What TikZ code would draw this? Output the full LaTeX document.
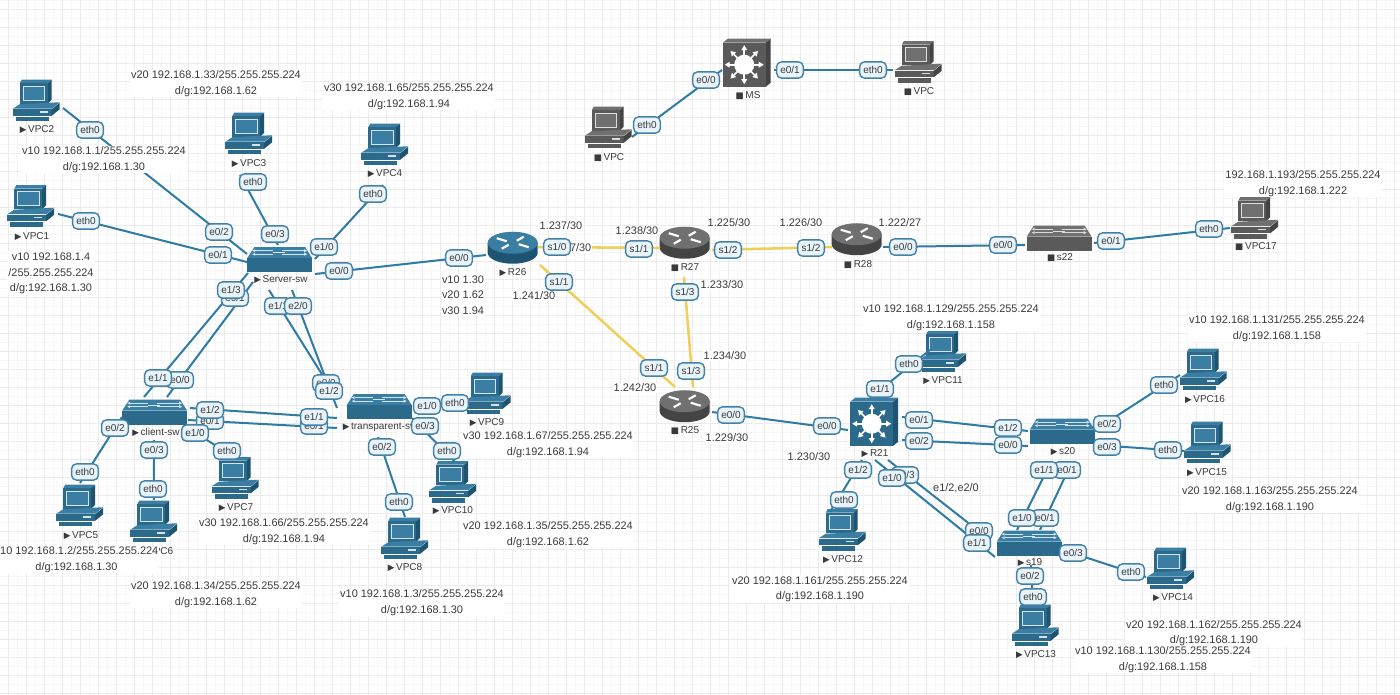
\documentclass[tikz,border=0pt]{standalone}
\usepackage{fontspec}
\setmainfont{Liberation Sans}
\newfontfamily\symf{DejaVu Sans}
\usetikzlibrary{calc}
\definecolor{blueM}{HTML}{2C6A8C}
\definecolor{blueT}{HTML}{3A7EA3}
\definecolor{blueD}{HTML}{1F5470}
\definecolor{blueS}{HTML}{D5E4EC}
\definecolor{grayM}{HTML}{5A5A5A}
\definecolor{grayT}{HTML}{707070}
\definecolor{grayD}{HTML}{444444}
\definecolor{grayS}{HTML}{DDDDDD}
\definecolor{linkblue}{HTML}{2E7BA6}
\definecolor{linkyel}{HTML}{F0CE58}
\definecolor{pillfill}{HTML}{E8F4FA}
\definecolor{pillline}{HTML}{4580A6}
\definecolor{inktext}{HTML}{3A3A3A}
\newcommand\txtf{\fontsize{8.2}{11.7}\selectfont}
\newcommand\pillf{\fontsize{7.5}{9}\selectfont}
\newcommand\devf{\fontsize{7.5}{9}\selectfont}
\newcommand\upm{{\symf\fontsize{6.5}{9}\selectfont ▶}\,}
\newcommand\stm{{\symf\fontsize{6.5}{9}\selectfont ■}\,}
\tikzset{
  link/.style={draw=linkblue,line width=1.5pt},
  serial/.style={draw=linkyel,line width=1.9pt},
  pcbox/.style={minimum width=35.25pt,minimum height=31.5pt,inner sep=0pt},
  swbox/.style={minimum width=48.75pt,minimum height=18.75pt,inner sep=0pt},
  rtbox/.style={minimum width=37.5pt,minimum height=24pt,inner sep=0pt},
  mlbox/.style={minimum width=36pt,minimum height=36pt,inner sep=0pt},
  pill/.style={draw=pillline,line width=1.05pt,fill=pillfill,rounded corners=3.6pt,minimum width=20pt,minimum height=12.2pt,inner sep=0pt,font=\pillf,text=inktext},
  txt/.style={fill=white,inner sep=.8pt,align=center,font=\txtf,text=inktext},
  devl/.style={inner sep=0pt,font=\devf,text=inktext},
  minor/.style={draw=black!3.5,line width=.4pt},
  major/.style={draw=black!8,line width=.5pt},
}
% #1 name, #2 x, #3 y, #4 colour prefix
\newcommand\pcdev[4]{%
  \node[pcbox] (#1) at (#2,#3) {};
  \begin{scope}[shift={(#1.north west)}]
    \fill[#4T] (7,3.5) -- (9,0) -- (39,0) -- (35,3.5) -- cycle;
    \fill[#4D] (35,3.5) -- (39,0) -- (39,20) -- (35,24) -- cycle;
    \fill[#4M] (7,3.5) rectangle (35,24);
    \filldraw[fill=#4T,draw=#4S,line width=.5pt] (10.5,6.5) rectangle (32,20.5);
    \fill[#4T] (0,29) -- (7,24.5) -- (47,22.5) -- (39,29) -- cycle;
    \fill[#4M] (0,29.6) rectangle (39,36);
    \fill[#4D] (39,29.6) -- (47,23) -- (47,29.5) -- (39,36) -- cycle;
    \fill[#4S] (27,31.5) rectangle (35,33);
    \fill[#4M] (3,37) rectangle (36,41.5);
  \end{scope}}
\newcommand\swdev[4]{%
  \node[swbox] (#1) at (#2,#3) {};
  \begin{scope}[shift={(#1.north west)}]
    \fill[#4T] (0,11) -- (7,0) -- (58,0) -- (65,11) -- cycle;
    \fill[#4M] (0,11) rectangle (65,25);
    \draw[#4S,line width=.5pt] (8,3.5) -- (26,3.5) (8,7) -- (26,7) (35,3.5) -- (57,3.5) (35,7) -- (57,7) (26,5.2) -- (38,5.2);
    \fill[#4S] (8,2) -- (5,3.5) -- (8,5) -- cycle (8,5.5) -- (5,7) -- (8,8.5) -- cycle (57,2) -- (60,3.5) -- (57,5) -- cycle (57,5.5) -- (60,7) -- (57,8.5) -- cycle;
  \end{scope}}
\newcommand\rtdev[4]{%
  \node[rtbox] (#1) at (#2,#3) {};
  \begin{scope}[shift={(#1.north west)}]
    \fill[#4D] (0,11) -- (0,21) arc[start angle=180,end angle=0,x radius=25,y radius=11] -- (50,11) -- cycle;
    \fill[#4T] (25,11) ellipse[x radius=25,y radius=11];
    \draw[white,line width=1.6pt] (9,6.5) -- (19,9.5) (41,15.5) -- (31,12.5) (36,5) -- (29,9) (14,17) -- (21,13);
  \end{scope}}
\newcommand\mldev[4]{%
  \node[mlbox] (#1) at (#2,#3) {};
  \begin{scope}[shift={(#1.north west)}]
    \fill[#4T] (0,4) -- (5,0) -- (48,0) -- (43,4) -- cycle;
    \fill[#4D] (43,4) -- (48,0) -- (48,44) -- (43,48) -- cycle;
    \fill[#4M] (0,4) rectangle (43,48);
    \fill[white] (21.5,26) circle[radius=10];
    \foreach \a in {0,45,...,315}{
      \begin{scope}[shift={(21.5,26)},rotate=\a]
        \draw[white,line width=1.2pt] (9,0) -- (15,0);
        \fill[white] (14.5,-3) -- (19.5,0) -- (14.5,3) -- cycle;
      \end{scope}
    }
  \end{scope}}
\newcommand\lk[7][link]{\draw[#1] ($(#2)+(#3,#4)$) -- ($(#5)+(#6,#7)$);}
\newcommand\pl[4]{\node[pill] (#1) at (#2,#3) {#4};}
\newcommand\tx[4]{\node[txt] (#1) at (#2,#3) {#4};}
\newcommand\dl[4]{\node[devl] (#1) at (#2,#3) {#4};}
\begin{document}
\begin{tikzpicture}[x=.75pt,y=-.75pt]
\useasboundingbox (0,0) rectangle (1400,695);
\fill[white] (0,0) rectangle (1400,695);
% grid
\foreach \i in {17,35,...,1400} {\draw[minor] (\i,0) -- (\i,695);}
\foreach \i in {0,18,...,695} {\draw[minor] (0,\i) -- (1400,\i);}
\foreach \i in {8,26,...,1400} {\draw[major] (\i,0) -- (\i,695);}
\foreach \i in {9,27,...,695} {\draw[major] (0,\i) -- (1400,\i);}
% device anchors (nodes) and icons
\pcdev{vpc2}{36.5}{101}{blue}
\pcdev{vpc1}{31}{206.5}{blue}
\pcdev{vpc3}{249}{134}{blue}
\pcdev{vpc4}{385}{145}{blue}
\swdev{srv}{280}{260}{blue}
\swdev{cli}{155}{412.5}{blue}
\swdev{trn}{379.5}{407}{blue}
\pcdev{vpc5}{80}{506}{blue}
\pcdev{vpc6}{154}{522}{blue}
\pcdev{vpc7}{235.5}{478.5}{blue}
\pcdev{vpc8}{405}{539}{blue}
\pcdev{vpc9}{487.5}{394}{blue}
\pcdev{vpc10}{453}{482.5}{blue}
\rtdev{r26}{513}{248}{blue}
\rtdev{r27}{685}{243}{gray}
\rtdev{r28}{857}{239.5}{gray}
\rtdev{r25}{685}{406.5}{gray}
\mldev{r21}{874.5}{422}{blue}
\swdev{s20}{1062.5}{431.5}{blue}
\swdev{s19}{1029.5}{543.5}{blue}
\swdev{s22}{1059.5}{238.5}{gray}
\pcdev{vpc11}{943}{352}{blue}
\pcdev{vpc12}{842.5}{530.5}{blue}
\pcdev{vpc13}{1035.5}{626}{blue}
\pcdev{vpc14}{1171}{569}{blue}
\pcdev{vpc15}{1207.5}{443}{blue}
\pcdev{vpc16}{1203.5}{370}{blue}
\pcdev{vpc17}{1255}{218.5}{gray}
\mldev{ms}{747}{63}{gray}
\pcdev{vpcr}{918.5}{62.5}{gray}
\pcdev{vpcl}{608.5}{128}{gray}
% connectors
\lk{vpc2}{26.5}{7}{srv}{-33}{-6}
\lk{vpc1}{27}{7.5}{srv}{-33}{2}
\lk{vpc3}{-9}{41}{srv}{-2}{-15}
\lk{vpc4}{-2}{40}{srv}{35}{-1}
\lk{srv}{35}{14}{r26}{-27}{7}
\lk{srv}{-32}{13}{cli}{-11}{-15.5}
\lk{srv}{-27}{22}{cli}{12}{-15.5}
\lk{srv}{-11}{30}{trn}{-44.5}{-12}
\lk{srv}{12}{30}{trn}{-42.5}{1}
\lk{cli}{35}{-4.5}{trn}{-42.5}{11}
\lk{cli}{33}{7.5}{trn}{-42.5}{21}
\lk{cli}{-33}{4.5}{vpc5}{0}{-23}
\lk{cli}{-1}{27.5}{vpc6}{0}{-22}
\lk{cli}{33}{15.5}{vpc7}{-3.5}{-22.5}
\lk{trn}{34.5}{0}{vpc9}{-22.5}{8}
\lk{trn}{32.5}{11}{vpc10}{2}{-20.5}
\lk{trn}{-1.5}{30}{vpc8}{0}{-22}
\lk[serial]{r26}{25}{-1}{r27}{-25}{5}
\lk[serial]{r27}{27}{7}{r28}{-25}{7.5}
\lk{r28}{26}{7.5}{s22}{-34.5}{6.5}
\lk{s22}{34.5}{4.5}{vpc17}{-25}{9.5}
\lk[serial]{r26}{27}{17}{r25}{-10}{-19.5}
\lk[serial]{r27}{-1}{34}{r25}{8}{-19.5}
\lk{r25}{27}{5.5}{r21}{-26.5}{8}
\lk{r21}{-4.5}{-24}{vpc11}{-13}{-2}
\lk{r21}{27.5}{-5}{s20}{-34.5}{-.5}
\lk{r21}{27.5}{18}{s20}{-34.5}{14.5}
\lk{r21}{-12.5}{38}{vpc12}{-12.5}{-18.5}
\lk{r21}{13.5}{38}{s19}{-39.5}{-3.5}
\lk{r21}{.5}{38}{s19}{-34.5}{13.5}
\lk{s20}{-12.5}{32.5}{s19}{-12.5}{-13.5}
\lk{s20}{9.5}{30.5}{s19}{10.5}{-13.5}
\lk{s19}{1.5}{21.5}{vpc13}{-2.5}{-21}
\lk{s19}{33.5}{6.5}{vpc14}{-25}{8}
\lk{s20}{32.5}{-1.5}{vpc16}{-23.5}{5}
\lk{s20}{32.5}{13.5}{vpc15}{-23.5}{8}
\lk{ms}{-25}{7}{vpcl}{23.5}{9}
\lk{ms}{27}{7}{vpcr}{-25.5}{7.5}
% device labels
\dl{lvpc2}{37}{130}{\upm VPC2}
\dl{lvpc1}{32}{237}{\upm VPC1}
\dl{lvpc3}{249}{164}{\upm VPC3}
\dl{lvpc4}{385}{174}{\upm VPC4}
\dl{lsrv}{281}{280}{\upm Server-sw}
\dl{lcli}{156}{432}{\upm client-sw}
\dl{ltrn}{380}{427}{\upm transparent-sw}
\dl{lvpc5}{81}{536}{\upm VPC5}
\dl{lvpc6}{156}{552}{\upm VPC6}
\dl{lvpc7}{236}{508}{\upm VPC7}
\dl{lvpc8}{405}{568}{\upm VPC8}
\dl{lvpc9}{487}{423}{\upm VPC9}
\dl{lvpc10}{453}{511}{\upm VPC10}
\dl{lr26}{513}{273}{\upm R26}
\dl{lr27}{685}{268}{\stm R27}
\dl{lr28}{858}{265}{\stm R28}
\dl{lr25}{685}{431}{\stm R25}
\dl{lr21}{875}{454}{\upm R21}
\dl{ls20}{1063}{452}{\upm s20}
\dl{ls19}{1030}{563}{\upm s19}
\dl{ls22}{1060}{258}{\stm s22}
\dl{lvpc11}{943}{381}{\upm VPC11}
\dl{lvpc12}{843}{560}{\upm VPC12}
\dl{lvpc13}{1036}{655}{\upm VPC13}
\dl{lvpc14}{1173}{598}{\upm VPC14}
\dl{lvpc15}{1207}{473}{\upm VPC15}
\dl{lvpc16}{1205}{400}{\upm VPC16}
\dl{lvpc17}{1256}{247}{\stm VPC17}
\dl{lms}{748}{96}{\stm MS}
\dl{lvpcr}{919}{92}{\stm VPC}
\dl{lvpcl}{609}{158}{\stm VPC}
% address texts
\tx{t1}{216}{83.5}{v20 192.168.1.33/255.255.255.224\\d/g:192.168.1.62}
\tx{t2}{409}{96.5}{v30 192.168.1.65/255.255.255.224\\d/g:192.168.1.94}
\tx{t3}{104}{159.5}{v10 192.168.1.1/255.255.255.224\\d/g:192.168.1.30}
\tx{t4}{51}{273.5}{v10 192.168.1.4\\/255.255.255.224\\d/g:192.168.1.30}
\tx{t5}{463}{295}{v10 1.30\\v20 1.62\\v30 1.94}
\tx{t6}{548}{444.5}{v30 192.168.1.67/255.255.255.224\\d/g:192.168.1.94}
\tx{t7}{548}{534.5}{v20 192.168.1.35/255.255.255.224\\d/g:192.168.1.62}
\tx{t8}{284}{531.5}{v30 192.168.1.66/255.255.255.224\\d/g:192.168.1.94}
\tx{t9}{76.5}{559.5}{v10 192.168.1.2/255.255.255.224\\d/g:192.168.1.30}
\tx{t10}{216}{594.5}{v20 192.168.1.34/255.255.255.224\\d/g:192.168.1.62}
\tx{t11}{422}{602.5}{v10 192.168.1.3/255.255.255.224\\d/g:192.168.1.30}
\tx{t12}{820}{589}{v20 192.168.1.161/255.255.255.224\\d/g:192.168.1.190}
\tx{t13}{951}{317.5}{v10 192.168.1.129/255.255.255.224\\d/g:192.168.1.158}
\tx{t14}{1277}{328.5}{v10 192.168.1.131/255.255.255.224\\d/g:192.168.1.158}
\tx{t15}{1270}{499.5}{v20 192.168.1.163/255.255.255.224\\d/g:192.168.1.190}
\tx{t16}{1214}{633}{v20 192.168.1.162/255.255.255.224\\d/g:192.168.1.190}
\tx{t17}{1163}{659.5}{v10 192.168.1.130/255.255.255.224\\d/g:192.168.1.158}
\tx{t18}{1303}{183.5}{192.168.1.193/255.255.255.224\\d/g:192.168.1.222}
\tx{i1}{561}{226}{1.237/30}
\tx{i2}{570}{248}{1.237/30}
\tx{i3}{637}{231}{1.238/30}
\tx{i4}{729}{223}{1.225/30}
\tx{i5}{801}{223}{1.226/30}
\tx{i6}{900}{223}{1.222/27}
\tx{i7}{534}{296}{1.241/30}
\tx{i8}{635}{388}{1.242/30}
\tx{i9}{722}{285}{1.233/30}
\tx{i10}{725}{356}{1.234/30}
\tx{i11}{727}{438}{1.229/30}
\tx{i12}{809}{457}{1.230/30}
\tx{i13}{956}{488}{e1/2,e2/0}
% port labels
\pl{a1}{90}{130}{eth0}
\pl{a2}{86}{221}{eth0}
\pl{a3}{219}{232}{e0/2}
\pl{a4}{218}{255}{e0/1}
\pl{a5}{253}{182}{eth0}
\pl{a6}{275}{234}{e0/3}
\pl{a7}{373}{194}{eth0}
\pl{a8}{324}{247}{e1/0}
\pl{a9}{339}{271}{e0/0}
\pl{a10}{459}{258}{e0/0}
\pl{a11}{235}{298}{e0/1}
\pl{a12}{231}{290}{e1/3}
\pl{a13}{278}{306}{e1/1}
\pl{a14}{298}{306}{e2/0}
\pl{a15}{180}{380}{e0/0}
\pl{a16}{158}{378}{e1/1}
\pl{a17}{326}{383}{e0/0}
\pl{a18}{329}{391}{e1/2}
\pl{a19}{210}{421}{e0/1}
\pl{a20}{210}{410}{e1/2}
\pl{a21}{314}{426}{e0/1}
\pl{a22}{314}{417}{e1/1}
\pl{a23}{115}{428}{e0/2}
\pl{a24}{85}{472}{eth0}
\pl{a25}{154}{450}{e0/3}
\pl{a26}{153}{489}{eth0}
\pl{a27}{195}{433}{e1/0}
\pl{a28}{227}{451}{eth0}
\pl{a29}{427}{406}{e1/0}
\pl{a30}{455}{403}{eth0}
\pl{a31}{425}{426}{e0/3}
\pl{a32}{447}{451}{eth0}
\pl{a33}{382}{447}{e0/2}
\pl{a34}{399}{502}{eth0}
\pl{b1}{557}{247}{s1/0}
\pl{b2}{639}{249}{s1/1}
\pl{b3}{728}{250}{s1/2}
\pl{b4}{811}{248}{s1/2}
\pl{b5}{903}{247}{e0/0}
\pl{b6}{1003}{245}{e0/0}
\pl{b7}{1111}{241}{e0/1}
\pl{b8}{1209}{229}{eth0}
\pl{b9}{559}{282}{s1/1}
\pl{b10}{654}{368}{s1/1}
\pl{b11}{685}{292}{s1/3}
\pl{b12}{691}{371}{s1/3}
\pl{b13}{731}{415}{e0/0}
\pl{b14}{827}{426}{e0/0}
\pl{c1}{880}{389}{e1/1}
\pl{c2}{909}{364}{eth0}
\pl{c3}{919}{420}{e0/1}
\pl{c4}{1008}{428}{e1/2}
\pl{c5}{919}{441}{e0/2}
\pl{c6}{1008}{445}{e0/0}
\pl{c7}{858}{470}{e1/2}
\pl{c8}{844}{500}{eth0}
\pl{c9}{905}{475}{e0/3}
\pl{c10}{892}{478}{e1/0}
\pl{c11}{979}{531}{e0/0}
\pl{c12}{977}{543}{e1/1}
\pl{c13}{1067}{470}{e0/1}
\pl{c14}{1044}{470}{e1/1}
\pl{c15}{1045}{518}{e0/1}
\pl{c16}{1022}{518}{e1/0}
\pl{c17}{1030}{576}{e0/2}
\pl{c18}{1033}{597}{eth0}
\pl{c19}{1073}{553}{e0/3}
\pl{c20}{1131}{572}{eth0}
\pl{c21}{1107}{424}{e0/2}
\pl{c22}{1164}{385}{eth0}
\pl{c23}{1107}{447}{e0/3}
\pl{c24}{1168}{450}{eth0}
\pl{d1}{706}{80}{e0/0}
\pl{d2}{647}{125}{eth0}
\pl{d3}{790}{70}{e0/1}
\pl{d4}{873}{70}{eth0}
\end{tikzpicture}
\end{document}
